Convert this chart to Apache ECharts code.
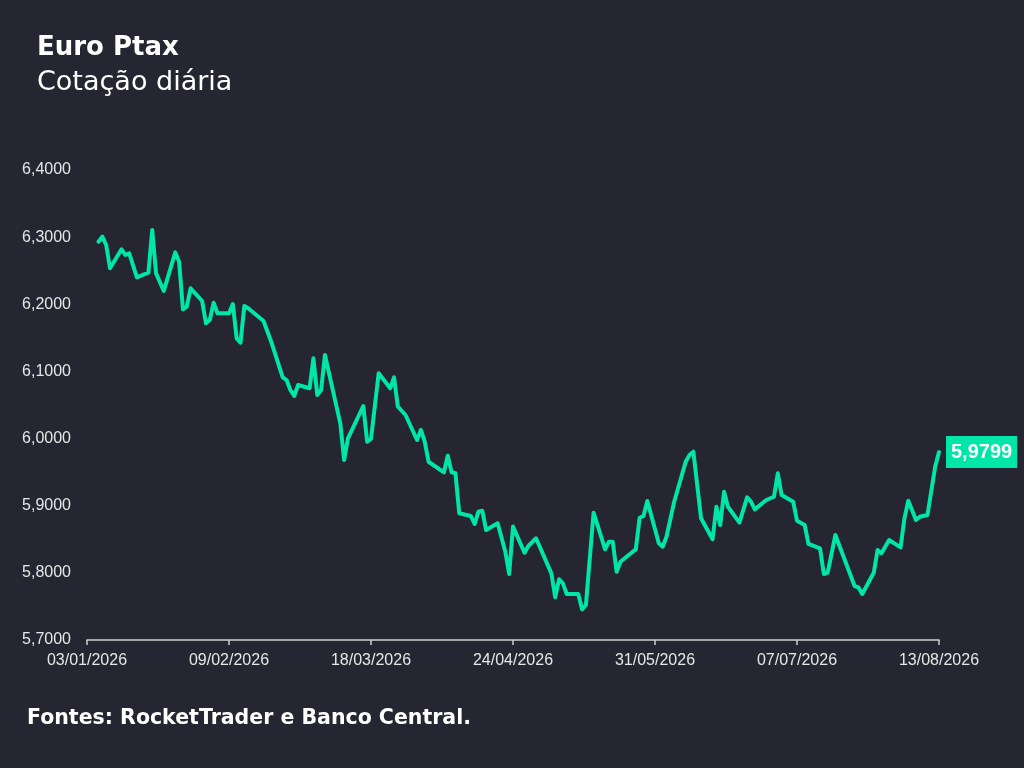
<!DOCTYPE html>
<html>
<head>
<meta charset="utf-8">
<title>Euro Ptax</title>
<script src="https://cdn.jsdelivr.net/npm/echarts@6/dist/echarts.min.js"></script>
<style>
  html, body { margin: 0; padding: 0; background: #252631; }
  #main { width: 1024px; height: 768px; }
</style>
</head>
<body>
<div id="main"></div>
<script>
// dias corridos desde 03/01/2026 e cotação do Euro Ptax
var inicio = Date.UTC(2026, 0, 3);
var dias = [3, 4, 5, 6, 9, 10, 11, 13, 16, 17, 18, 20, 23, 24, 25, 26, 27, 30, 31, 32,
  33, 34, 37, 38, 39, 40, 41, 42, 46, 48, 51, 52, 53, 54, 55, 58, 59, 60, 61, 62,
  66, 67, 68, 72, 73, 74, 76, 79, 80, 81, 83, 86, 87, 88, 89, 93, 94, 95, 96, 97,
  100, 101, 102, 103, 104, 107, 109, 110, 111, 114, 115, 117, 121, 122, 123, 124, 125, 128, 129, 130,
  132, 135, 136, 137, 138, 139, 143, 144, 145, 146, 149, 150, 151, 153, 156, 157, 158, 160, 163, 164,
  165, 166, 167, 170, 172, 173, 174, 177, 179, 180, 181, 184, 185, 187, 188, 191, 192, 193, 195, 200,
  201, 202, 205, 206, 207, 209, 212, 213, 214, 216, 217, 219, 221, 222];
var cotacao = [6.2932, 6.3007, 6.2883, 6.2536, 6.2819, 6.2734, 6.2759, 6.2402, 6.2470, 6.3106,
  6.2461, 6.2198, 6.2774, 6.2634, 6.1925, 6.1964, 6.2238, 6.2049, 6.1717, 6.1766,
  6.2024, 6.1866, 6.1866, 6.2004, 6.1493, 6.1428, 6.1974, 6.1940, 6.1751, 6.1443,
  6.0912, 6.0872, 6.0723, 6.0634, 6.0798, 6.0749, 6.1195, 6.0649, 6.0723, 6.1245,
  6.0227, 5.9681, 6.0004, 6.0485, 5.9953, 5.9995, 6.0972, 6.0749, 6.0912, 6.0475,
  6.0351, 5.9979, 6.0128, 5.9953, 5.9655, 5.9498, 5.9745, 5.9498, 5.9483, 5.8887,
  5.8847, 5.8728, 5.8911, 5.8926, 5.8638, 5.8738, 5.8315, 5.7983, 5.8690, 5.8300,
  5.8400, 5.8515, 5.7993, 5.7636, 5.7904, 5.7844, 5.7685, 5.7685, 5.7457, 5.7521,
  5.8896, 5.8351, 5.8464, 5.8464, 5.8017, 5.8166, 5.8351, 5.8821, 5.8847, 5.9070,
  5.8440, 5.8389, 5.8538, 5.9060, 5.9655, 5.9755, 5.9804, 5.8812, 5.8500, 5.8985,
  5.8713, 5.9209, 5.8985, 5.8747, 5.9125, 5.9060, 5.8946, 5.9085, 5.9134, 5.9483,
  5.9159, 5.9060, 5.8777, 5.8713, 5.8430, 5.8366, 5.7983, 5.8002, 5.8564, 5.7804,
  5.7785, 5.7685, 5.8002, 5.8340, 5.8291, 5.8489, 5.8380, 5.8812, 5.9075, 5.8787,
  5.8836, 5.8862, 5.9581, 5.9799];

var verde = '#00e6a8';

function dataLabel(d) {
  var dt = new Date(inicio + d * 86400000);
  var dd = ('0' + dt.getUTCDate()).slice(-2);
  var mm = ('0' + (dt.getUTCMonth() + 1)).slice(-2);
  return dd + '/' + mm + '/' + dt.getUTCFullYear();
}

var pontos = dias.map(function (d, i) { return [d, cotacao[i]]; });

var myChart = echarts.init(document.getElementById('main'));

var option = {
  backgroundColor: '#252631',
  animation: false,
  title: [{
    text: 'Euro Ptax',
    subtext: 'Cotação diária',
    left: 32,
    top: 30,
    itemGap: 8,
    textStyle: { color: '#ffffff', fontFamily: 'DejaVu Sans', fontWeight: 'bold', fontSize: 26 },
    subtextStyle: { color: '#ffffff', fontFamily: 'DejaVu Sans', fontWeight: 'normal', fontSize: 27 }
  }, {
    text: 'Fontes: RocketTrader e Banco Central.',
    left: 22,
    top: 703,
    textStyle: { color: '#ffffff', fontFamily: 'DejaVu Sans', fontWeight: 'bold', fontSize: 20.5 }
  }],
  grid: { left: 87, right: 85, top: 170, bottom: 128 },
  xAxis: {
    type: 'value',
    min: 0,
    max: 222,
    interval: 37,
    splitLine: { show: false },
    axisLine: { show: true, lineStyle: { color: '#cfcfcf', width: 1.5 } },
    axisTick: { show: true, length: 5, lineStyle: { color: '#cfcfcf', width: 1.5 } },
    axisLabel: {
      color: '#e6e6e6',
      fontFamily: 'Liberation Sans',
      fontSize: 16,
      margin: 13,
      formatter: function (v) { return dataLabel(v); }
    }
  },
  yAxis: {
    type: 'value',
    min: 5.7,
    max: 6.4,
    interval: 0.1,
    splitLine: { show: false },
    axisLine: { show: false },
    axisTick: { show: false },
    axisLabel: {
      color: '#e6e6e6',
      fontFamily: 'Liberation Sans',
      fontSize: 16,
      margin: 16,
      formatter: function (v) { return v.toFixed(4).replace('.', ','); }
    }
  },
  series: [{
    type: 'line',
    data: pontos,
    showSymbol: false,
    lineStyle: { color: verde, width: 4, join: 'round', cap: 'round' },
    endLabel: {
      show: true,
      formatter: function (p) { return p.value[1].toFixed(4).replace('.', ','); },
      backgroundColor: verde,
      color: '#ffffff',
      fontFamily: 'Liberation Sans',
      fontWeight: 'bold',
      fontSize: 20,
      padding: [6, 5, 6, 5],
      distance: 7
    }
  }]
};

myChart.setOption(option);
</script>
</body>
</html>
